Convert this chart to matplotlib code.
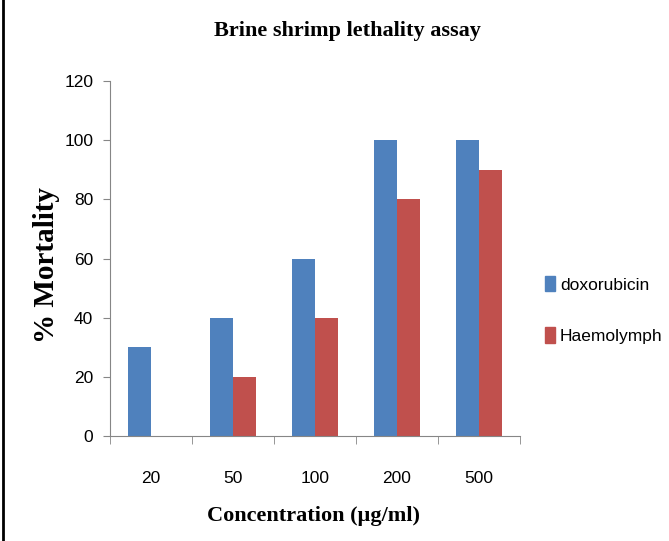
import matplotlib.pyplot as plt
import numpy as np
from matplotlib.lines import Line2D
from matplotlib.patches import Patch

concentrations = ['20', '50', '100', '200', '500']
doxorubicin = [30, 40, 60, 100, 100]
haemolymph = [0, 20, 40, 80, 90]

blue = '#4F81BD'
red = '#C0504D'
grey = '#868686'

fig = plt.figure(figsize=(6.69, 5.41), dpi=100)
ax = fig.add_axes([0.1644, 0.194, 0.613, 0.656])

x = np.arange(len(concentrations))
w = 0.28
ax.bar(x - w/2, doxorubicin, w, color=blue, label='doxorubicin')
ax.bar(x + w/2, haemolymph, w, color=red, label='Haemolymph')

ax.set_xlim(-0.5, 4.5)
ax.set_ylim(0, 120)
ax.set_yticks(range(0, 121, 20))

# category labels centred, tick marks at the boundaries
ax.set_xticks(x)
ax.set_xticklabels(concentrations)
ax.set_xticks(np.arange(-0.5, 5, 1), minor=True)
ax.tick_params(axis='x', which='major', length=0, pad=25)
ax.tick_params(axis='x', which='minor', length=6, color=grey, direction='out')
ax.tick_params(axis='y', length=5, color=grey, pad=7)

for lab in ax.get_xticklabels() + ax.get_yticklabels():
    lab.set_fontfamily('Liberation Sans')
    lab.set_fontsize(12.5)

for s in ['top', 'right']:
    ax.spines[s].set_visible(False)
ax.spines['left'].set_color(grey)
ax.spines['bottom'].set_color(grey)

fig.text(0.519, 0.943, 'Brine shrimp lethality assay', ha='center', va='center',
         family='Liberation Serif', fontweight='bold', fontsize=16)
fig.text(0.469, 0.046, 'Concentration (\u00b5g/ml)', ha='center', va='center',
         family='Liberation Serif', fontweight='bold', fontsize=16)
fig.text(0.07, 0.51, '% Mortality', ha='center', va='center', rotation=90,
         family='Liberation Serif', fontweight='bold', fontsize=21)

handles = [Patch(color=blue), Patch(color=red)]
fig.legend(handles, ['doxorubicin', 'Haemolymph'], loc='center left',
           bbox_to_anchor=(0.815, 0.427), frameon=False, handlelength=0.55,
           handleheight=1.0, handletextpad=0.3, labelspacing=2.0,
           borderpad=0, borderaxespad=0,
           prop={'family': 'Liberation Sans', 'size': 12.5})

fig.add_artist(Line2D([0.005, 0.005], [0, 1], color='black', lw=2))

fig.savefig('out.png', dpi=100)
